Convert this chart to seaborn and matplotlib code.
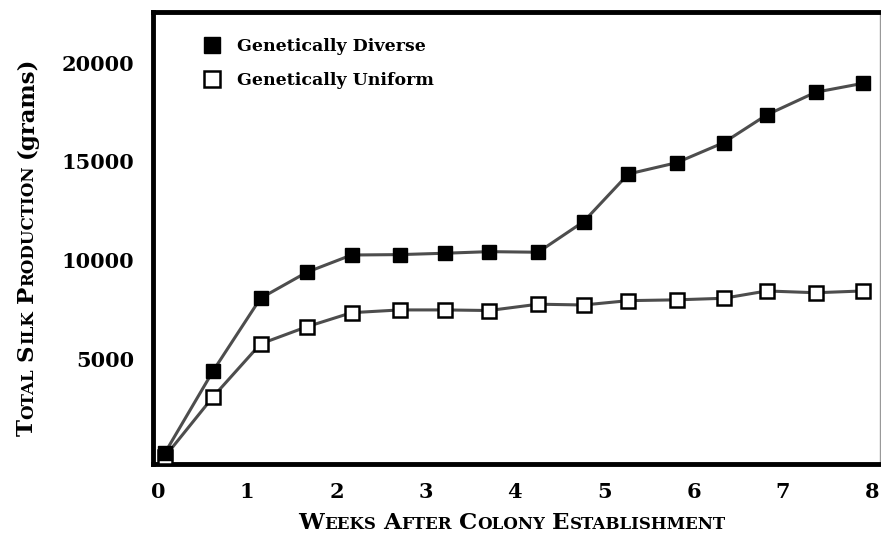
import matplotlib
matplotlib.use("Agg")
import matplotlib.pyplot as plt
from matplotlib.lines import Line2D
from matplotlib.transforms import IdentityTransform
import seaborn as sns

# data
weeks = [0.08, 0.62, 1.15, 1.67, 2.17, 2.71, 3.22, 3.71,
         4.26, 4.77, 5.27, 5.81, 6.34, 6.82, 7.37, 7.90]
diverse = [250, 4400, 8070, 9390, 10260, 10280, 10350, 10430,
           10400, 11950, 14360, 14930, 15950, 17350, 18500, 18950]
uniform = [60, 3090, 5760, 6630, 7340, 7480, 7480, 7450,
           7770, 7730, 7950, 7990, 8070, 8440, 8350, 8440]
series_names = ["Genetically Diverse", "Genetically Uniform"]
x_ticks = [0, 1, 2, 3, 4, 5, 6, 7, 8]
y_ticks = [5000, 10000, 15000, 20000]

FONT = "DejaVu Serif"
LINE_GREY = "#4d4d4d"

sns.set_style("white")
plt.rcParams["font.family"] = FONT
plt.rcParams["font.weight"] = "bold"
plt.rcParams["text.color"] = "black"
plt.rcParams["xtick.color"] = "black"
plt.rcParams["ytick.color"] = "black"

fig = plt.figure(figsize=(8.81, 5.38), dpi=100)
ax = fig.add_axes([0.1731, 0.1375, 0.8258, 0.8402])

sns.lineplot(x=weeks, y=uniform, ax=ax, color=LINE_GREY, lw=2.2,
             marker="s", markersize=10.5, markerfacecolor="white",
             markeredgecolor="black", markeredgewidth=1.8, zorder=3)
sns.lineplot(x=weeks, y=diverse, ax=ax, color=LINE_GREY, lw=2.2,
             marker="s", markersize=10.5, markerfacecolor="black",
             markeredgecolor="black", markeredgewidth=1.0, zorder=4)

ax.set_xlim(-0.06, 8.09)
ax.set_ylim(-320, 22560)
ax.set_xticks(x_ticks)
ax.set_yticks(y_ticks)
ax.tick_params(axis="both", length=0, labelsize=15, pad=13, labelcolor="black")
ax.set_xlabel("")
ax.set_ylabel("")

for side in ["left", "top", "bottom"]:
    ax.spines[side].set_linewidth(3.5)
    ax.spines[side].set_color("black")
ax.spines["right"].set_linewidth(1)
ax.spines["right"].set_color("#999999")

handles = [
    Line2D([], [], ls="none", marker="s", markersize=11, markerfacecolor="black",
           markeredgecolor="black"),
    Line2D([], [], ls="none", marker="s", markersize=11, markerfacecolor="white",
           markeredgecolor="black", markeredgewidth=1.8),
]
ax.legend(handles, series_names, loc="upper left", bbox_to_anchor=(0.058, 0.962),
          frameon=False, fontsize=12.5, handletextpad=0.95, labelspacing=0.98,
          borderpad=0, handlelength=1.0, labelcolor="black")


def small_caps(words, cx, cy, big, small, rotation=0):
    # matplotlib has no small caps, so set each piece by hand
    r = fig.canvas.get_renderer()
    pieces = []
    for i, w in enumerate(words):
        if i > 0:
            pieces.append((None, big * 0.32))
        if w.startswith("("):
            pieces.append((w, big))
            continue
        pieces.append((w[0], big))
        pieces.append((w[1:].upper(), small))
    widths = []
    for s, sz in pieces:
        if s is None:
            widths.append(sz * 100 / 72)
            continue
        t = fig.text(0, 0, s, fontsize=sz, fontweight="bold", transform=IdentityTransform())
        widths.append(t.get_window_extent(r).width)
        t.remove()
    pos = -sum(widths) / 2
    for (s, sz), w in zip(pieces, widths):
        if s is not None:
            if rotation == 0:
                fig.text(cx + pos, cy, s, fontsize=sz, fontweight="bold", color="black",
                         ha="left", va="baseline", transform=IdentityTransform())
            else:
                fig.text(cx, cy + pos, s, fontsize=sz, fontweight="bold", color="black",
                         ha="left", va="baseline", rotation=90,
                         rotation_mode="anchor", transform=IdentityTransform())
        pos += w


H = 538
small_caps(["Weeks", "After", "Colony", "Establishment"], 512, H - 529, 16.5, 12)
small_caps(["Total", "Silk", "Production", "(grams)"], 33, H - 246, 16.5, 12, rotation=90)

fig.savefig("out.png", dpi=100)
